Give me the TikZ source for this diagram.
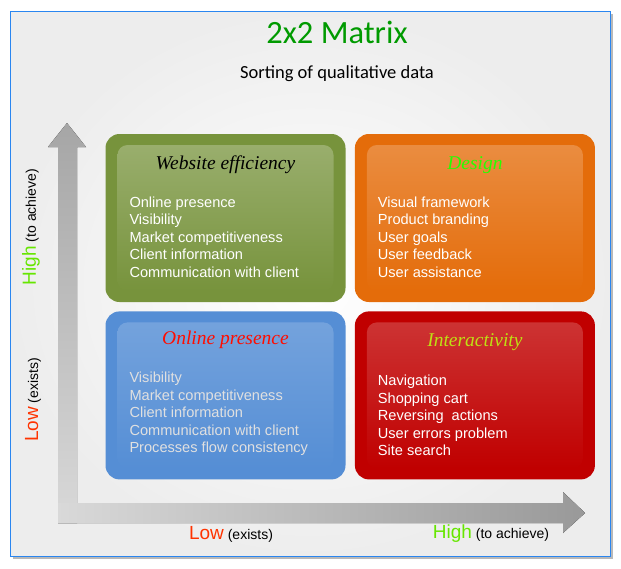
\documentclass[tikz,border=0pt]{standalone}
\usepackage{fontspec}
\setmainfont{Liberation Sans}
\newfontfamily\calibrifont{Carlito}
\newfontfamily\timesfont{Liberation Serif}
\usetikzlibrary{positioning, shapes, shadows}

\definecolor{quadgreen}{HTML}{77933C}
\definecolor{quadorange}{HTML}{E46C0A}
\definecolor{quadblue}{HTML}{558ED5}
\definecolor{quadred}{HTML}{C00000}
\definecolor{titlegreen}{HTML}{009A00}
\definecolor{lowred}{HTML}{FF3300}
\definecolor{highgreen}{HTML}{66E600}
\definecolor{frameblue}{HTML}{2A86F0}

\tikzset{
  quadbox/.style={rectangle, rounded corners=14pt, minimum width=240pt, minimum height=168pt, inner sep=0pt},
  panelbox/.style={rectangle, rounded corners=10pt, minimum width=216pt, minimum height=146pt, inner sep=0pt},
  quadtitle/.style={font=\timesfont\itshape\fontsize{19.5}{22}\selectfont},
  itemlist/.style={anchor=north west, align=left, inner sep=0pt, font=\fontsize{14.6}{17.4}\selectfont, text=white},
  axislabel/.style={font=\fontsize{14}{16}\selectfont, inner sep=0pt}
}

\begin{document}
\begin{tikzpicture}[x=1pt, y=-1pt]
        \useasboundingbox (0,0) rectangle (621,568);

        % Frame
        \node (frame) [draw=frameblue, line width=1pt, rectangle, minimum width=600pt, minimum height=545pt, inner color=white, outer color=black!7, drop shadow={shadow xshift=3pt, shadow yshift=-3pt, fill=black!55}] at (310,283.5) {};

        % Title
        \node (title) [font=\calibrifont\fontsize{32.5}{38}\selectfont, text=titlegreen] at (337,32) {2x2 Matrix};
        \node (subtitle) [font=\calibrifont\fontsize{18.5}{22}\selectfont, below=15pt of title] {Sorting of qualitative data};

        % Axes
        \coordinate (origin) at (58,523);
        \coordinate (ytip) at (67,123);
        \coordinate (xtip) at (585,513);
        \fill[bottom color=black!15, top color=black!35] (origin) -- (58,147) -- (48,147) -- (ytip) -- (86,147) -- (77,147) -- (77,523) -- cycle;
        \fill[left color=black!15, right color=black!40] (origin) -- (58,503) -- (563,503) -- (563,492) -- (xtip) -- (563,533) -- (563,523) -- cycle;

        % Axis labels
        \node (yhigh) [axislabel, rotate=90] at (31,227) {\textcolor{highgreen}{\fontsize{19}{22}\selectfont High} (to achieve)};
        \node (ylow) [axislabel, rotate=90] at (33,400) {\textcolor{lowred}{\fontsize{19}{22}\selectfont Low} (exists)};
        \node (xlow) [axislabel] at (231,534) {\textcolor{lowred}{\fontsize{19}{22}\selectfont Low} (exists)};
        \node (xhigh) [axislabel] at (491,534) {\textcolor{highgreen}{\fontsize{19}{22}\selectfont High} (to achieve)};

        % Quadrants
        \node (webquad) [quadbox, fill=quadgreen] at (225.5,218) {};
        \node (designquad) [quadbox, fill=quadorange, right=9pt of webquad] {};
        \node (onlinequad) [quadbox, fill=quadblue, below=9pt of webquad] {};
        \node (interquad) [quadbox, fill=quadred, right=9pt of onlinequad] {};

        % Inner panels
        \node (webpanel) [panelbox, top color=white!25!quadgreen, bottom color=quadgreen] at (webquad) {};
        \node (designpanel) [panelbox, top color=white!22!quadorange, bottom color=quadorange] at (designquad) {};
        \node (onlinepanel) [panelbox, top color=white!18!quadblue, bottom color=quadblue] at (onlinequad) {};
        \node (interpanel) [panelbox, top color=white!20!quadred, bottom color=quadred] at (interquad) {};

        % Quadrant titles
        \node (webtitle) [quadtitle, text=black] at ([yshift=-31pt]webquad.north) {Website efficiency};
        \node (designtitle) [quadtitle, text=green!85!yellow] at ([yshift=-31pt]designquad.north) {Design};
        \node (onlinetitle) [quadtitle, text=red!90!orange] at ([yshift=-29pt]onlinequad.north) {Online presence};
        \node (intertitle) [quadtitle, text=yellow!75!green] at ([yshift=-31pt]interquad.north) {Interactivity};

        % Quadrant lists
        \node (weblist) [itemlist] at ([xshift=24pt, yshift=-63pt]webquad.north west) {Online presence\\Visibility\\Market competitiveness\\Client information\\Communication with client};
        \node (designlist) [itemlist] at ([xshift=23pt, yshift=-63pt]designquad.north west) {Visual framework\\Product branding\\User goals\\User feedback\\User assistance};
        \node (onlinelist) [itemlist, text=white!88!black] at ([xshift=24pt, yshift=-61pt]onlinequad.north west) {Visibility\\Market competitiveness\\Client information\\Communication with client\\Processes flow consistency};
        \node (interlist) [itemlist] at ([xshift=23pt, yshift=-64pt]interquad.north west) {Navigation\\Shopping cart\\Reversing\ \ actions\\User errors problem\\Site search};
    \end{tikzpicture}
\end{document}
